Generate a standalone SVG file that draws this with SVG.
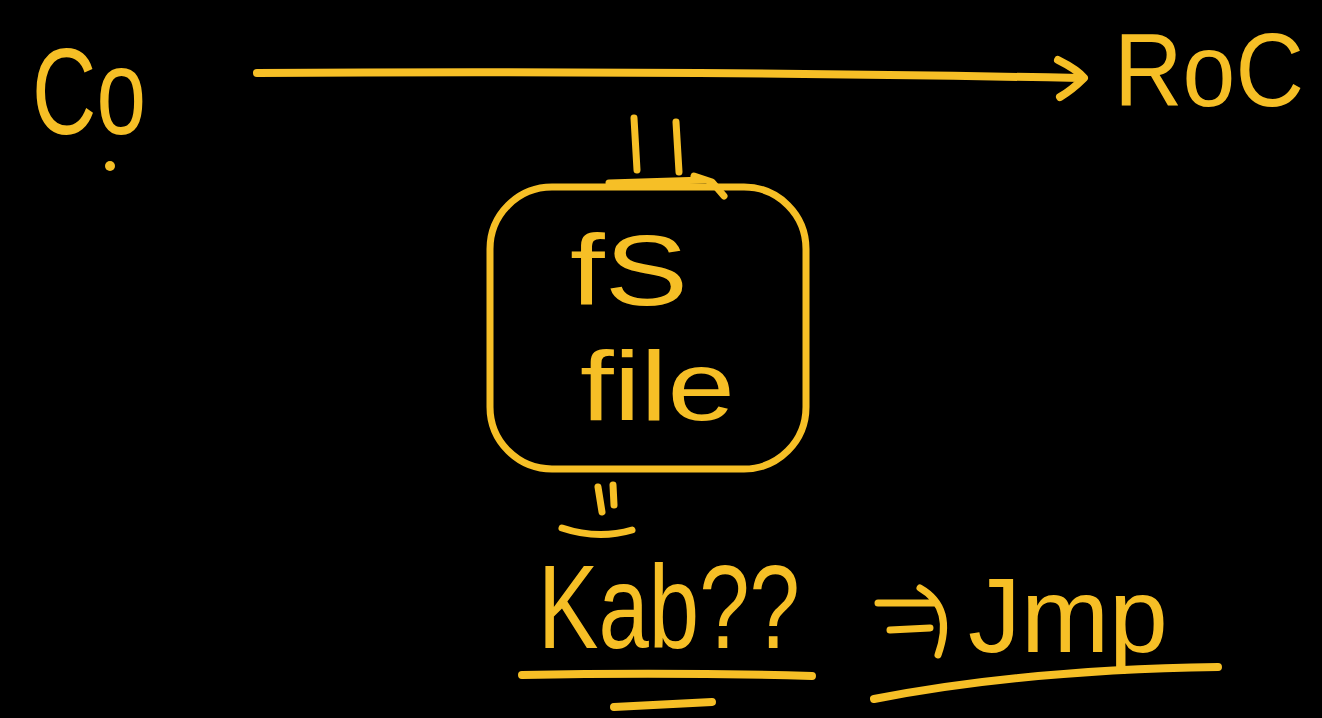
<svg xmlns="http://www.w3.org/2000/svg" width="1322" height="718" viewBox="0 0 1322 718">
<style>
.t{fill:#f6bf26;font-family:"Liberation Sans","DejaVu Sans",sans-serif}
.s{fill:none;stroke:#f6bf26;stroke-linecap:round;stroke-linejoin:round}
</style>
<rect width="1322" height="718" fill="#000"/>
<g id="connectors">
<path class="s" stroke-width="8" d="M257 73 Q650 70 1080 78"/>
<path class="s" stroke-width="8" d="M1058 60 Q1078 70 1084 78 Q1072 90 1060 97"/>
<path class="s" stroke-width="7" d="M634 118 L637 170 M676 122 L679 172"/>
<path class="s" stroke-width="7" d="M609 183 L705 180 M694 176 L712 182 L724 196"/>
<path class="s" stroke-width="7" d="M598 487 L602 512 M613 485 L614 505"/>
<path class="s" stroke-width="7" d="M562 528 Q598 540 632 530"/>
<path class="s" stroke-width="8" d="M522 675 Q670 672 812 676"/>
<path class="s" stroke-width="8" d="M614 707 L712 702"/>
<path class="s" stroke-width="7" d="M878 603 L935 603 M890 630 L930 628 M920 588 Q955 608 938 655"/>
<path class="s" stroke-width="8" d="M874 699 Q1020 670 1218 667"/>
</g>
<g id="node-co">
<text class="t" x="32" y="134" font-size="122" textLength="114" lengthAdjust="spacingAndGlyphs">Co</text>
<circle cx="110" cy="166" r="5" fill="#f6bf26"/>
</g>
<g id="node-roc">
<text class="t" x="1114" y="106" font-size="104" textLength="190" lengthAdjust="spacingAndGlyphs">RoC</text>
</g>
<g id="node-fsfile">
<rect class="s" stroke-width="7" x="490" y="187" width="316" height="282" rx="62"/>
<text class="t" x="570" y="305" font-size="100" textLength="118" lengthAdjust="spacingAndGlyphs">fS</text>
<text class="t" x="580" y="420" font-size="98" textLength="155" lengthAdjust="spacingAndGlyphs">file</text>
</g>
<g id="node-kab">
<text class="t" x="538" y="648" font-size="118" textLength="262" lengthAdjust="spacingAndGlyphs">Kab??</text>
</g>
<g id="node-jmp">
<text class="t" x="968" y="652" font-size="106" textLength="200" lengthAdjust="spacingAndGlyphs">Jmp</text>
</g>
</svg>
